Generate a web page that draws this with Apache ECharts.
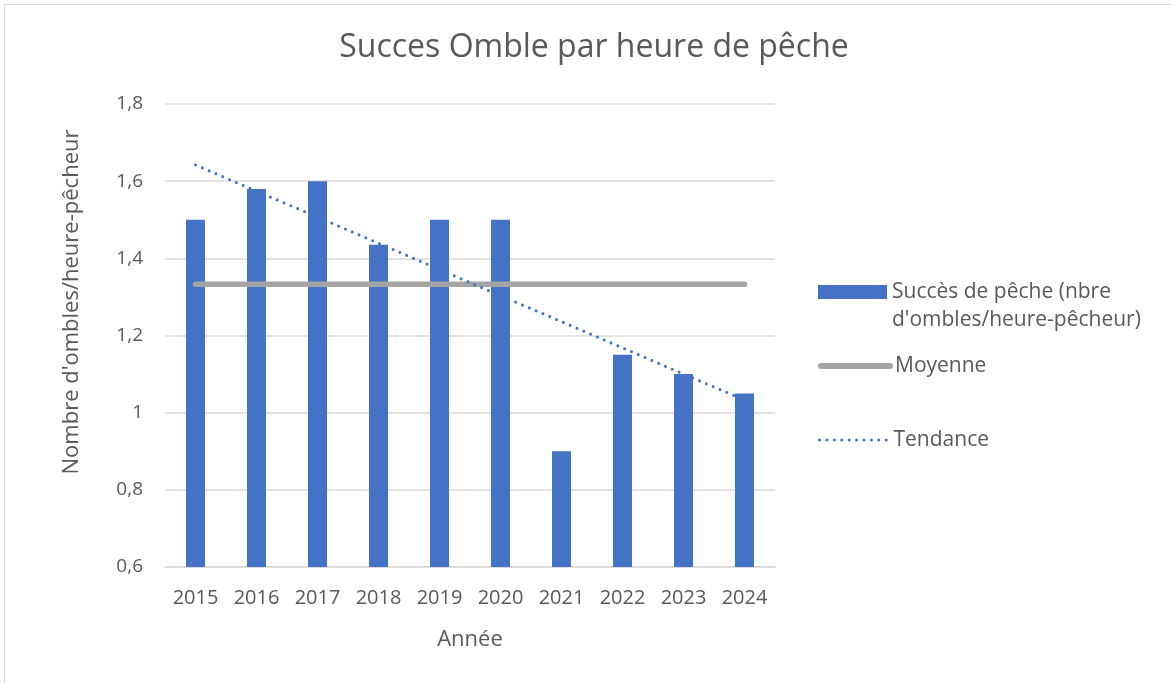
<!DOCTYPE html>
<html><head><meta charset="utf-8">
<script src="https://cdn.jsdelivr.net/npm/echarts@6/dist/echarts.min.js"></script>
<style>html,body{margin:0;padding:0;background:#fff}#c{width:1171px;height:683px}</style>
</head><body><div id="c"></div>
<script>
const years = ['2015','2016','2017','2018','2019','2020','2021','2022','2023','2024'];
const succes = [1.5, 1.58, 1.6, 1.435, 1.5, 1.5, 0.9, 1.15, 1.1, 1.05];
const moyenne = [1.333, 1.333, 1.333, 1.333, 1.333, 1.333, 1.333, 1.333, 1.333, 1.333];
const tendance = [1.642, 1.574, 1.507, 1.439, 1.371, 1.303, 1.236, 1.168, 1.100, 1.033];
const yTicks = ['0,6','0,8','1','1,2','1,4','1,6','1,8'];

const FONT = '"Open Sans", "Noto Sans", sans-serif';
const TXT = '#595959';
const BLUE = '#4472C4';
const GRAY = '#A5A5A5';
const NONE = 'rgba(0,0,0,0)';
const DOTS = [0.01, 7.4];
const chart = echarts.init(document.getElementById('c'), null, {renderer:'canvas'});
const barName = "Succès de pêche (nbre d'ombles/heure-pêcheur)";
const legText = {color:TXT, fontFamily:FONT, fontSize:21, lineHeight:24};
chart.setOption({
  animation:false,
  title:{text:'Succes Omble par heure de pêche', left:589, top:27, textAlign:'center',
    textStyle:{fontFamily:FONT, fontSize:32, fontWeight:'normal', color:TXT}},
  grid:{left:165, right:396, top:104, bottom:116, containLabel:false},
  xAxis:{type:'category', data:years, boundaryGap:true,
    axisLine:{show:true, lineStyle:{color:'#D9D9D9', width:1.5}}, axisTick:{show:false},
    axisLabel:{color:TXT, fontFamily:FONT, fontSize:20, margin:21},
    name:'Année', nameLocation:'middle', nameGap:62,
    nameTextStyle:{color:TXT, fontFamily:FONT, fontSize:22}},
  yAxis:{type:'value', min:0.6, max:1.8, interval:0.2,
    axisLine:{show:false}, axisTick:{show:false},
    splitLine:{lineStyle:{color:'#D9D9D9', width:1.5}},
    axisLabel:{color:TXT, fontFamily:FONT, fontSize:19, margin:22,
      formatter:(v)=>{const i=Math.round((v-0.6)/0.2); return yTicks[i];}}},
  legend:[
    {left:818, top:280, padding:0, itemWidth:69, itemHeight:14,
      data:[{name:barName, icon:'rect'}],
      formatter:()=> 'Succès de pêche (nbre', textStyle:legText},
    {left:818, top:354, padding:0, itemWidth:69, itemHeight:14,
      data:[{name:'Moyenne', itemStyle:{color:NONE, borderColor:NONE, borderWidth:0}, lineStyle:{color:GRAY, width:6, cap:'round'}}],
      textStyle:legText},
    {left:818, top:428, padding:0, itemWidth:69, itemHeight:14,
      data:[{name:'Tendance', itemStyle:{color:NONE, borderColor:NONE, borderWidth:0}, lineStyle:{color:BLUE, width:3, type:DOTS, cap:'round'}}],
      textStyle:legText}
  ],
  graphic:[
    {type:'rect', shape:{x:4.5, y:4.5, width:1200, height:700}, style:{fill:'none', stroke:'#D9D9D9', lineWidth:1}, silent:true},
    {type:'text', x:892, y:320, style:{text:"d'ombles/heure-pêcheur)", fill:TXT, font:'21px '+FONT, verticalAlign:'middle'}},
    {type:'text', x:72, y:302, rotation:Math.PI/2, style:{text:"Nombre d'ombles/heure-pêcheur", fill:TXT, font:'22px '+FONT, align:'center', verticalAlign:'middle'}}
  ],
  series:[
    {name:barName, type:'bar', data:succes, barWidth:19, itemStyle:{color:BLUE}},
    {name:'Moyenne', type:'line', data:moyenne, symbol:'none', lineStyle:{color:GRAY, width:5.5, cap:'round'}, itemStyle:{color:GRAY}},
    {name:'Tendance', type:'line', data:tendance, symbol:'none', lineStyle:{color:BLUE, width:3, type:DOTS, cap:'round'}, itemStyle:{color:BLUE}}
  ]
});
</script></body></html>
